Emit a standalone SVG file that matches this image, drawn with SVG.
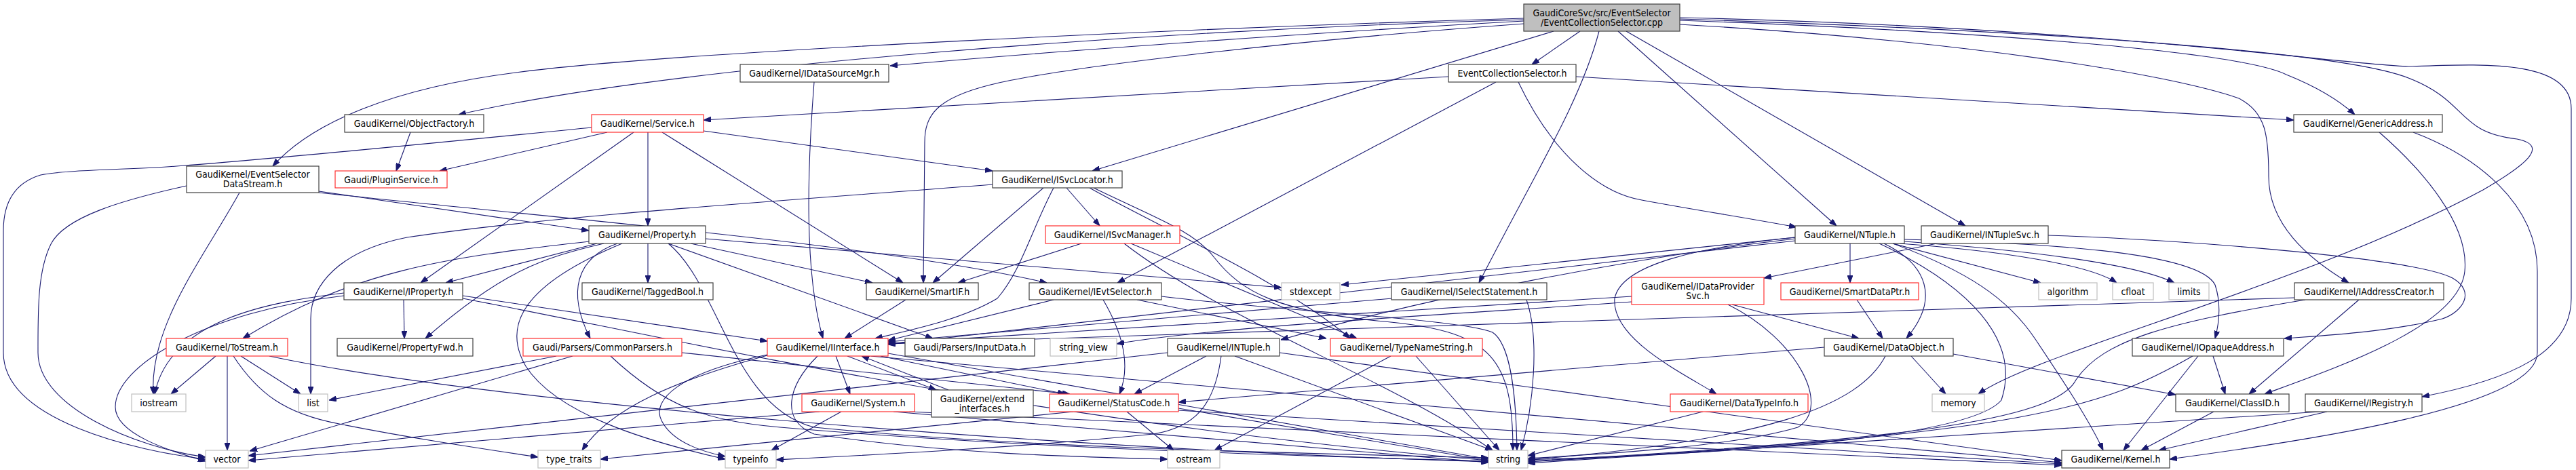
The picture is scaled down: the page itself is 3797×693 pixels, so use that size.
<svg xmlns="http://www.w3.org/2000/svg" width="3797" height="693" viewBox="0 0 3797 693">
<style>
rect{fill:#fff;stroke-width:1.2}
.b rect{stroke:#404040}
.r rect{stroke:#ff3030}
.g rect{stroke:#bfbfbf}
.root rect{fill:#bfbfbf;stroke:#404040}
text{font-family:"DejaVu Sans Condensed","DejaVu Sans",sans-serif;font-stretch:condensed;font-size:14px;fill:#000;text-anchor:middle}
#edges path{fill:none;stroke:#191970;stroke-width:1.1;marker-end:url(#a)}
</style>
<defs>
<marker id="a" markerWidth="11" markerHeight="8" refX="11" refY="4" orient="auto" markerUnits="userSpaceOnUse"><path d="M0,0 L11,4 L0,8 z" fill="#191970" stroke="#191970"/></marker>
</defs>
<rect x="0" y="0" width="3797" height="693" style="fill:#fff;stroke:none"/>
<g id="edges">
<path d="M2246,31 C1900,50 1500,80 1312,97"/>
<path d="M2329,46 L2258,95"/>
<path d="M2246,29 C1700,45 1000,95 676,169"/>
<path d="M2246,27 C1800,40 1000,75 760,107 C580,130 460,180 402,245"/>
<path d="M2290,46 L1610,252"/>
<path d="M2246,35 C1900,60 1560,100 1460,125 C1380,145 1363,170 1363,210 L1361,417"/>
<path d="M2385,46 L2707,333"/>
<path d="M2397,46 L2897,333"/>
<path d="M2357,46 C2330,150 2260,260 2180,417"/>
<path d="M2476,30 C2900,45 3300,75 3370,110 C3420,130 3450,150 3471,169"/>
<path d="M2476,36 C2900,60 3200,110 3300,145 C3340,165 3344,200 3344,260 C3344,330 3400,380 3462,417"/>
<path d="M2476,28 C3000,45 3450,75 3550,115 C3640,150 3620,195 3710,205 C3760,215 3720,245 3660,280 C3400,420 3000,520 2916,581"/>
<path d="M2476,26 C3100,40 3450,95 3550,98 C3650,95 3790,85 3790,160 L3790,440 C3790,520 3700,560 3570,585"/>
<path d="M2135,113 L1037,177"/>
<path d="M2205,121 L1647,417"/>
<path d="M2238,121 C2290,230 2360,285 2420,295 C2500,310 2580,322 2648,335"/>
<path d="M2323,113 L3381,177"/>
<path d="M605,195 L584,252"/>
<path d="M1200,121 C1190,250 1185,400 1213,499"/>
<path d="M895,195 L648,252"/>
<path d="M872,188 C700,205 400,235 260,245 C200,250 100,250 60,258 C20,270 5,300 5,340 L5,520 C5,620 200,665 303,677"/>
<path d="M934,195 L620,417"/>
<path d="M955,195 L955,333"/>
<path d="M976,195 L1331,417"/>
<path d="M1037,193 L1463,252"/>
<path d="M275,274 C180,295 95,320 75,360 C55,400 56,460 56,520 C56,600 200,660 303,674"/>
<path d="M353,284 C300,380 220,480 226,581"/>
<path d="M470,282 L868,340"/>
<path d="M470,284 C800,320 1300,360 1543,417"/>
<path d="M1538,277 L1375,417"/>
<path d="M1553,277 C1520,340 1505,400 1470,440 C1420,470 1350,485 1290,499"/>
<path d="M1572,277 L1621,333"/>
<path d="M1463,272 C1100,300 800,320 600,350 C500,370 458,420 458,470 L458,581"/>
<path d="M1606,277 C1700,330 1900,420 1990,499"/>
<path d="M1612,277 C1700,320 1760,340 1790,380 C1830,430 1880,460 2050,475 C2200,490 2230,530 2230,664"/>
<path d="M1594,359 L1412,417"/>
<path d="M1667,359 L2000,499"/>
<path d="M1657,359 C1800,470 2050,560 2200,664"/>
<path d="M880,359 L657,417"/>
<path d="M890,359 C800,380 740,400 627,499"/>
<path d="M869,356 C650,380 520,400 358,499"/>
<path d="M955,359 L955,417"/>
<path d="M1018,359 L1286,417"/>
<path d="M910,359 C850,380 835,430 870,499"/>
<path d="M985,359 L1375,499"/>
<path d="M917,359 C770,420 740,480 775,540 C820,610 950,650 1069,677"/>
<path d="M985,359 C1060,420 1080,600 1200,630 C1500,660 1900,668 2194,675"/>
<path d="M1040,352 L1889,424"/>
<path d="M595,442 L596,499"/>
<path d="M507,432 C400,445 250,470 228,581"/>
<path d="M507,436 C300,460 170,540 170,600 C170,640 250,665 303,680"/>
<path d="M682,436 L1131,503"/>
<path d="M682,440 C1000,500 1500,620 2194,679"/>
<path d="M1335,442 L1245,499"/>
<path d="M1553,442 L1309,502"/>
<path d="M1626,442 C1660,500 1665,545 1650,581"/>
<path d="M1676,442 L1955,499"/>
<path d="M1712,437 C1900,460 2150,470 2200,490 C2230,510 2235,600 2236,664"/>
<path d="M2052,440 L1309,504"/>
<path d="M2250,442 C2270,500 2260,600 2242,664"/>
<path d="M2553,449 L2740,499"/>
<path d="M2547,449 C2650,500 2700,600 2650,630 C2550,660 2350,670 2252,676"/>
<path d="M2405,437 L1309,506"/>
<path d="M2405,445 C2200,460 1800,480 1646,507"/>
<path d="M2737,442 L2775,499"/>
<path d="M2855,359 L2600,410"/>
<path d="M3019,347 C3200,352 3560,380 3615,410 C3650,430 3630,460 3600,470 C3520,490 3420,495 3367,499"/>
<path d="M2727,359 L2727,417"/>
<path d="M2777,359 C2840,390 2860,440 2810,499"/>
<path d="M2646,352 C2400,380 2100,440 1888,501"/>
<path d="M2646,350 L1977,420"/>
<path d="M2790,359 L3008,417"/>
<path d="M2800,359 C2950,370 3080,390 3120,417"/>
<path d="M2807,356 C3000,370 3150,390 3205,417"/>
<path d="M2807,353 C3000,358 3240,370 3265,420 C3275,450 3270,480 3265,499"/>
<path d="M2770,359 C2900,420 2980,500 2950,590 C2900,650 2500,670 2252,678"/>
<path d="M2790,359 C2900,400 2960,440 3000,500 C3040,560 3080,620 3100,664"/>
<path d="M2646,350 C2500,365 2390,390 2380,440 C2375,500 2480,550 2530,581"/>
<path d="M2646,355 L1309,508"/>
<path d="M2689,512 L1737,593"/>
<path d="M2879,522 L3207,582"/>
<path d="M2817,525 L2868,581"/>
<path d="M2779,525 C2740,600 2600,650 2252,678"/>
<path d="M3262,525 L3280,581"/>
<path d="M3240,525 L3130,664"/>
<path d="M3232,525 C3100,600 3000,640 2252,681"/>
<path d="M3477,442 L3315,581"/>
<path d="M3382,439 L1309,507"/>
<path d="M3398,442 C3200,475 3100,500 3060,560 C3030,620 2800,650 2252,680"/>
<path d="M3263,607 L3156,664"/>
<path d="M3430,607 L3182,664"/>
<path d="M3420,607 L2252,683"/>
<path d="M3507,195 C3570,250 3640,330 3633,400 C3625,480 3450,540 3338,581"/>
<path d="M3557,195 C3650,230 3740,300 3740,400 L3740,520 C3740,600 3400,650 3198,677"/>
<path d="M318,525 L252,581"/>
<path d="M335,525 L335,664"/>
<path d="M355,525 L443,581"/>
<path d="M397,525 C700,590 1500,660 2194,681"/>
<path d="M344,525 C380,580 420,610 500,625 C600,645 700,660 793,674"/>
<path d="M820,525 L485,590"/>
<path d="M844,525 L368,665"/>
<path d="M900,525 C980,600 1040,620 1150,630 C1500,660 1900,672 2194,680"/>
<path d="M1005,520 L1577,581"/>
<path d="M1232,525 L1253,581"/>
<path d="M1249,525 L1380,575"/>
<path d="M1298,525 L1570,581"/>
<path d="M1131,524 C1000,560 900,600 858,664"/>
<path d="M1131,523 C1000,550 960,590 975,620 C990,650 1030,665 1069,673"/>
<path d="M1205,525 C1160,570 1150,620 1200,640 C1400,670 1600,674 1721,677"/>
<path d="M1283,525 L3039,682"/>
<path d="M1309,521 L2194,677"/>
<path d="M1240,607 L1137,664"/>
<path d="M1208,607 L366,679"/>
<path d="M1317,607 L2194,682"/>
<path d="M1340,607 L3039,686"/>
<path d="M1398,575 L1270,525"/>
<path d="M1661,607 L1730,664"/>
<path d="M1737,602 L2194,679"/>
<path d="M1582,607 L885,677"/>
<path d="M1737,605 L3039,684"/>
<path d="M1778,525 L1672,581"/>
<path d="M1800,525 C1790,600 1760,630 1700,640 C1500,660 1300,670 1144,678"/>
<path d="M1820,525 L2200,664"/>
<path d="M1886,520 L3039,679"/>
<path d="M1721,520 L366,672"/>
<path d="M2050,525 L1790,664"/>
<path d="M2087,525 L2210,664"/>
<path d="M2510,607 L2252,672"/>
</g>
<g id="n1" class="root"><rect x="2246" y="6" width="230" height="40"/><text x="2361" y="24">GaudiCoreSvc/src/EventSelector</text><text x="2361" y="38">/EventCollectionSelector.cpp</text></g>
<g id="n2" class="b"><rect x="1091" y="95" width="219" height="26"/><text x="1200.5" y="113">GaudiKernel/IDataSourceMgr.h</text></g>
<g id="n3" class="b"><rect x="2135" y="95" width="188" height="26"/><text x="2229" y="113">EventCollectionSelector.h</text></g>
<g id="n4" class="b"><rect x="508" y="169" width="205" height="26"/><text x="610.5" y="187">GaudiKernel/ObjectFactory.h</text></g>
<g id="n5" class="r"><rect x="872" y="169" width="165" height="26"/><text x="954.5" y="187">GaudiKernel/Service.h</text></g>
<g id="n6" class="b"><rect x="3381" y="169" width="219" height="26"/><text x="3490.5" y="187">GaudiKernel/GenericAddress.h</text></g>
<g id="n7" class="b"><rect x="275" y="245" width="195" height="39"/><text x="372.5" y="262">GaudiKernel/EventSelector</text><text x="372.5" y="276">DataStream.h</text></g>
<g id="n8" class="r"><rect x="494" y="252" width="165" height="25"/><text x="576.5" y="269.5">Gaudi/PluginService.h</text></g>
<g id="n9" class="b"><rect x="1463" y="252" width="191" height="25"/><text x="1558.5" y="269.5">GaudiKernel/ISvcLocator.h</text></g>
<g id="n10" class="b"><rect x="868" y="333" width="172" height="26"/><text x="954" y="351">GaudiKernel/Property.h</text></g>
<g id="n11" class="r"><rect x="1541" y="333" width="198" height="26"/><text x="1640" y="351">GaudiKernel/ISvcManager.h</text></g>
<g id="n12" class="b"><rect x="2646" y="333" width="161" height="26"/><text x="2726.5" y="351">GaudiKernel/NTuple.h</text></g>
<g id="n13" class="b"><rect x="2832" y="333" width="187" height="26"/><text x="2925.5" y="351">GaudiKernel/INTupleSvc.h</text></g>
<g id="n14" class="b"><rect x="507" y="417" width="175" height="25"/><text x="594.5" y="434.5">GaudiKernel/IProperty.h</text></g>
<g id="n15" class="b"><rect x="858" y="417" width="193" height="25"/><text x="954.5" y="434.5">GaudiKernel/TaggedBool.h</text></g>
<g id="n16" class="b"><rect x="1277" y="417" width="165" height="25"/><text x="1359.5" y="434.5">GaudiKernel/SmartIF.h</text></g>
<g id="n17" class="b"><rect x="1517" y="417" width="195" height="25"/><text x="1614.5" y="434.5">GaudiKernel/IEvtSelector.h</text></g>
<g id="n18" class="g"><rect x="1889" y="417" width="86" height="25"/><text x="1932" y="434.5">stdexcept</text></g>
<g id="n19" class="b"><rect x="2051" y="417" width="229" height="25"/><text x="2165.5" y="434.5">GaudiKernel/ISelectStatement.h</text></g>
<g id="n20" class="r"><rect x="2405" y="409" width="195" height="40"/><text x="2502.5" y="427">GaudiKernel/IDataProvider</text><text x="2502.5" y="441">Svc.h</text></g>
<g id="n21" class="r"><rect x="2625" y="417" width="203" height="25"/><text x="2726.5" y="434.5">GaudiKernel/SmartDataPtr.h</text></g>
<g id="n22" class="g"><rect x="3005" y="417" width="86" height="25"/><text x="3048" y="434.5">algorithm</text></g>
<g id="n23" class="g"><rect x="3114" y="417" width="60" height="25"/><text x="3144" y="434.5">cfloat</text></g>
<g id="n24" class="g"><rect x="3197" y="417" width="59" height="25"/><text x="3226.5" y="434.5">limits</text></g>
<g id="n25" class="b"><rect x="3382" y="417" width="220" height="25"/><text x="3492" y="434.5">GaudiKernel/IAddressCreator.h</text></g>
<g id="n26" class="r"><rect x="245" y="499" width="179" height="26"/><text x="334.5" y="517">GaudiKernel/ToStream.h</text></g>
<g id="n27" class="b"><rect x="497" y="499" width="200" height="26"/><text x="597" y="517">GaudiKernel/PropertyFwd.h</text></g>
<g id="n28" class="r"><rect x="771" y="499" width="234" height="26"/><text x="888" y="517">Gaudi/Parsers/CommonParsers.h</text></g>
<g id="n29" class="r"><rect x="1131" y="499" width="178" height="26"/><text x="1220" y="517">GaudiKernel/IInterface.h</text></g>
<g id="n30" class="b"><rect x="1334" y="499" width="191" height="26"/><text x="1429.5" y="517">Gaudi/Parsers/InputData.h</text></g>
<g id="n31" class="g"><rect x="1548" y="499" width="98" height="26"/><text x="1597" y="517">string_view</text></g>
<g id="n32" class="b"><rect x="1721" y="499" width="165" height="26"/><text x="1803.5" y="517">GaudiKernel/INTuple.h</text></g>
<g id="n33" class="r"><rect x="1961" y="499" width="224" height="26"/><text x="2073" y="517">GaudiKernel/TypeNameString.h</text></g>
<g id="n34" class="b"><rect x="2689" y="499" width="190" height="26"/><text x="2784" y="517">GaudiKernel/DataObject.h</text></g>
<g id="n35" class="b"><rect x="3143" y="499" width="223" height="26"/><text x="3254.5" y="517">GaudiKernel/IOpaqueAddress.h</text></g>
<g id="n36" class="g"><rect x="194" y="581" width="80" height="26"/><text x="234" y="599">iostream</text></g>
<g id="n37" class="g"><rect x="440" y="581" width="43" height="26"/><text x="461.5" y="599">list</text></g>
<g id="n38" class="r"><rect x="1182" y="581" width="166" height="26"/><text x="1265" y="599">GaudiKernel/System.h</text></g>
<g id="n39" class="b"><rect x="1373" y="575" width="150" height="40"/><text x="1448" y="593">GaudiKernel/extend</text><text x="1448" y="607">_interfaces.h</text></g>
<g id="n40" class="r"><rect x="1547" y="581" width="190" height="26"/><text x="1642" y="599">GaudiKernel/StatusCode.h</text></g>
<g id="n41" class="r"><rect x="2462" y="581" width="203" height="26"/><text x="2563.5" y="599">GaudiKernel/DataTypeInfo.h</text></g>
<g id="n42" class="g"><rect x="2848" y="581" width="77" height="26"/><text x="2886.5" y="599">memory</text></g>
<g id="n43" class="b"><rect x="3207" y="581" width="167" height="26"/><text x="3290.5" y="599">GaudiKernel/ClassID.h</text></g>
<g id="n44" class="b"><rect x="3398" y="581" width="172" height="26"/><text x="3484" y="599">GaudiKernel/IRegistry.h</text></g>
<g id="n45" class="g"><rect x="303" y="664" width="63" height="26"/><text x="334.5" y="682">vector</text></g>
<g id="n46" class="g"><rect x="793" y="664" width="92" height="26"/><text x="839" y="682">type_traits</text></g>
<g id="n47" class="g"><rect x="1069" y="664" width="75" height="26"/><text x="1106.5" y="682">typeinfo</text></g>
<g id="n48" class="g"><rect x="1721" y="664" width="77" height="26"/><text x="1759.5" y="682">ostream</text></g>
<g id="n49" class="g"><rect x="2194" y="664" width="58" height="26"/><text x="2223" y="682">string</text></g>
<g id="n50" class="b"><rect x="3039" y="664" width="159" height="26"/><text x="3118.5" y="682">GaudiKernel/Kernel.h</text></g>
</svg>
